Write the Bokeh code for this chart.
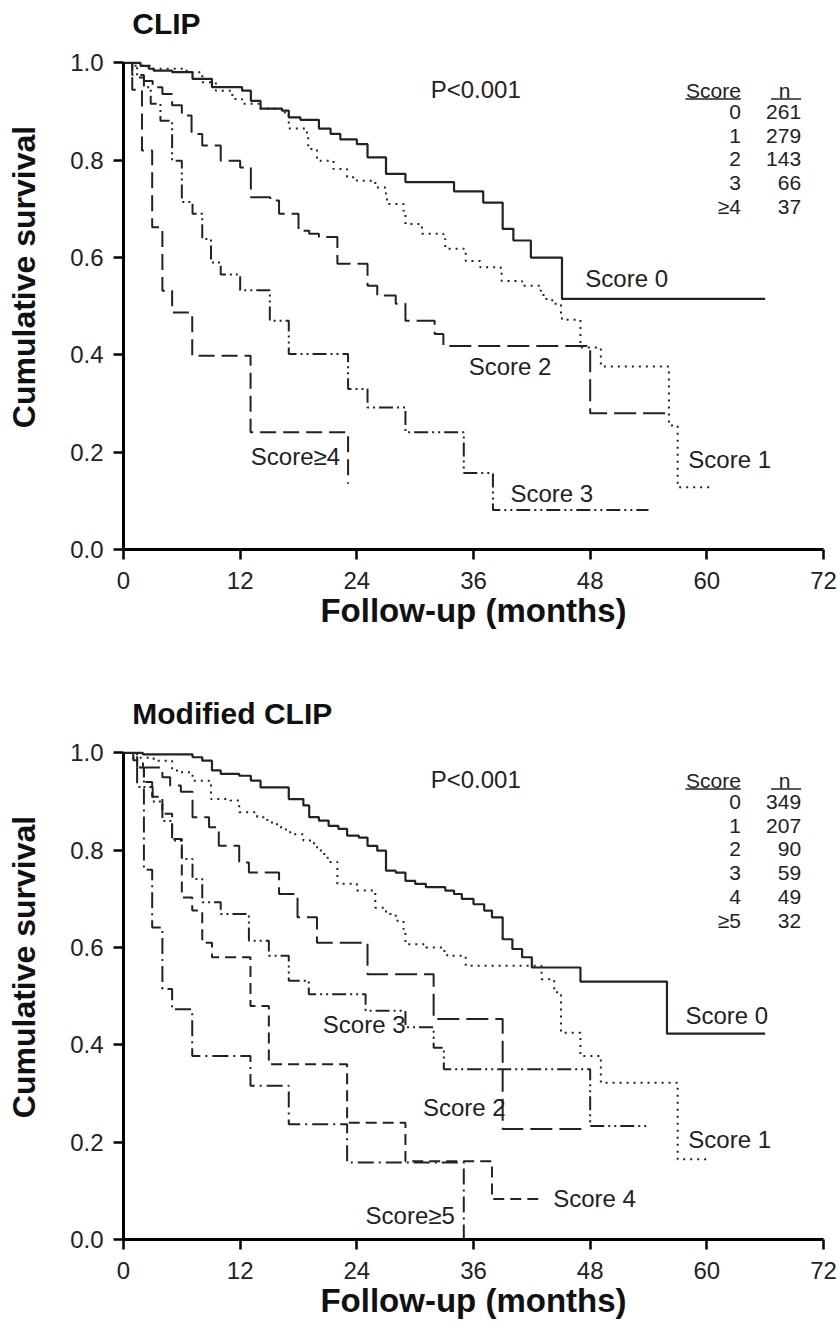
from bokeh.plotting import figure
from bokeh.models import Label, FixedTicker
from bokeh.layouts import column
from bokeh.embed import file_html
from bokeh.resources import INLINE

FONT = "Liberation Sans"
LINE = "#222222"

# ---------------- data ----------------
x_ticks = [0, 12, 24, 36, 48, 60, 72]
y_ticks = [0.0, 0.2, 0.4, 0.6, 0.8, 1.0]
y_tick_labels = ["0.0", "0.2", "0.4", "0.6", "0.8", "1.0"]

# CLIP panel
clip_s0_t = [0, 1.75, 2.6, 3.1, 5.0, 7.1, 9.1, 12.2, 13.1, 14.1, 16.3, 17.0, 18.2, 20.1, 21.3, 22.3, 24.0, 25.1, 27.0, 29.0, 34.0, 37.0, 39.0, 40.1, 41.9, 45.1, 66.0]
clip_s0_s = [1.0, 0.994, 0.988, 0.984, 0.981, 0.967, 0.95, 0.943, 0.922, 0.906, 0.902, 0.888, 0.883, 0.865, 0.854, 0.843, 0.833, 0.806, 0.772, 0.755, 0.736, 0.713, 0.659, 0.635, 0.600, 0.515, 0.515]
clip_s1_t = [0, 1.0, 3.0, 6.5, 8.1, 9.5, 11.2, 12.2, 13.9, 16.3, 17.0, 18.7, 19.0, 19.9, 21.6, 23.0, 24.0, 25.9, 27.0, 27.1, 28.8, 29.0, 30.7, 32.9, 33.1, 35.0, 35.2, 36.7, 38.8, 38.9, 41.0, 42.9, 43.2, 44.1, 45.0, 45.1, 47.0, 49.1, 56.1, 57.0, 60.7]
clip_s1_s = [1.0, 0.994, 0.988, 0.981, 0.96, 0.943, 0.926, 0.916, 0.906, 0.898, 0.865, 0.857, 0.823, 0.799, 0.782, 0.765, 0.758, 0.744, 0.731, 0.71, 0.696, 0.669, 0.649, 0.638, 0.618, 0.61, 0.593, 0.58, 0.567, 0.552, 0.542, 0.532, 0.515, 0.505, 0.484, 0.472, 0.415, 0.376, 0.255, 0.128, 0.128]
clip_s2_t = [0, 0.9, 2.1, 3.0, 4.0, 5.0, 6.0, 7.0, 8.1, 10.0, 12.0, 13.1, 15.1, 16.0, 18.0, 19.1, 20.1, 22.0, 25.1, 26.1, 28.0, 29.0, 32.0, 32.9, 48.0, 56.1]
clip_s2_s = [1.0, 0.975, 0.963, 0.95, 0.936, 0.913, 0.892, 0.854, 0.830, 0.799, 0.785, 0.724, 0.717, 0.690, 0.655, 0.649, 0.642, 0.587, 0.542, 0.522, 0.505, 0.470, 0.443, 0.418, 0.28, 0.28]
clip_s3_t = [0, 1.4, 2.1, 2.8, 3.8, 5.0, 6.0, 7.1, 8.1, 9.0, 10.0, 12.0, 15.05, 17.0, 23.1, 25.1, 29.0, 35.0, 38.0, 54.0]
clip_s3_s = [1.0, 0.97, 0.95, 0.916, 0.881, 0.799, 0.714, 0.69, 0.638, 0.59, 0.565, 0.533, 0.47, 0.402, 0.33, 0.292, 0.241, 0.157, 0.081, 0.081]
clip_s4_t = [0, 0.9, 1.9, 2.95, 4.0, 5.0, 7.07, 13.07, 23.1]
clip_s4_s = [1.0, 0.945, 0.82, 0.662, 0.532, 0.487, 0.398, 0.241, 0.135]
clip_scores = ["0", "1", "2", "3", "≥4"]
clip_n = ["261", "279", "143", "66", "37"]
clip_curve_labels = ["Score 0", "Score 1", "Score 2", "Score 3", "Score≥4"]

# Modified CLIP panel
m_s0_t = [0, 2.0, 7.1, 8.1, 9.1, 10.0, 11.9, 13.1, 14.1, 17.0, 18.5, 19.1, 20.1, 21.1, 22.1, 23.0, 24.2, 25.1, 26.1, 27.0, 28.0, 29.0, 30.0, 31.1, 33.1, 34.0, 34.8, 36.0, 37.1, 37.9, 39.0, 40.0, 41.0, 42.0, 47.0, 55.9, 66.0]
m_s0_s = [1.0, 0.997, 0.991, 0.984, 0.964, 0.957, 0.953, 0.943, 0.929, 0.905, 0.892, 0.868, 0.861, 0.850, 0.844, 0.830, 0.826, 0.809, 0.799, 0.758, 0.754, 0.737, 0.731, 0.724, 0.717, 0.710, 0.700, 0.689, 0.676, 0.662, 0.617, 0.597, 0.580, 0.559, 0.530, 0.423, 0.423]
m_s1_t = [0, 1.0, 3.1, 5.0, 5.9, 7.1, 9.0, 11.0, 11.9, 13.75, 14.8, 15.8, 16.7, 17.5, 18.5, 19.6, 20.3, 21.0, 22.0, 24.0, 25.9, 27.0, 28.0, 28.8, 29.0, 31.1, 32.9, 33.3, 35.2, 43.0, 44.3, 45.0, 47.0, 49.1, 57.0, 60.4]
m_s1_s = [1.0, 0.99, 0.984, 0.964, 0.96, 0.943, 0.905, 0.902, 0.878, 0.868, 0.857, 0.847, 0.837, 0.833, 0.820, 0.806, 0.792, 0.776, 0.731, 0.717, 0.682, 0.669, 0.655, 0.638, 0.607, 0.600, 0.593, 0.583, 0.5625, 0.535, 0.508, 0.425, 0.377, 0.322, 0.165, 0.165]
m_s2_t = [0, 1.0, 2.0, 4.0, 4.8, 5.9, 7.1, 8.8, 9.8, 11.9, 12.9, 16.0, 17.9, 19.9, 25.1, 31.9, 39.0, 47.2]
m_s2_s = [1.0, 0.985, 0.97, 0.95, 0.933, 0.92, 0.868, 0.847, 0.809, 0.775, 0.754, 0.710, 0.662, 0.610, 0.545, 0.453, 0.227, 0.227]
m_s3_t = [0, 1.4, 2.1, 3.0, 4.0, 5.0, 6.0, 7.1, 8.1, 10.0, 12.9, 14.95, 17.0, 19.06, 24.9, 29.0, 31.9, 32.95, 48.0, 54.0]
m_s3_s = [1.0, 0.97, 0.93, 0.90, 0.86, 0.82, 0.782, 0.741, 0.693, 0.669, 0.614, 0.583, 0.532, 0.504, 0.470, 0.436, 0.394, 0.350, 0.233, 0.233]
m_s4_t = [0, 1.4, 2.1, 2.95, 4.0, 5.0, 6.0, 7.07, 8.1, 9.1, 13.06, 14.95, 23.0, 29.0, 37.9, 42.9]
m_s4_s = [1.0, 0.97, 0.94, 0.91, 0.875, 0.823, 0.703, 0.676, 0.610, 0.580, 0.480, 0.360, 0.240, 0.161, 0.083, 0.083]
m_s5_t = [0, 1.4, 2.1, 2.95, 4.0, 5.0, 7.07, 13.06, 17.0, 23.0, 35.0]
m_s5_s = [1.0, 0.93, 0.76, 0.641, 0.515, 0.473, 0.377, 0.316, 0.237, 0.158, 0.0]
m_scores = ["0", "1", "2", "3", "4", "≥5"]
m_n = ["349", "207", "90", "59", "49", "32"]
m_curve_labels = ["Score 0", "Score 1", "Score 2", "Score 3", "Score 4", "Score≥5"]

Y_TOP = 1.12  # head-room above 1.0 for the panel title


def make_panel(title, curves, scores, ns, curve_labels, label_pos, height, top, bottom):
    p = figure(width=840, height=height, x_range=(0, 72), y_range=(0, Y_TOP),
               output_backend="svg", toolbar_location=None,
               min_border_left=123, min_border_right=17,
               min_border_top=top, min_border_bottom=bottom)
    p.outline_line_color = None
    p.xgrid.visible = False
    p.ygrid.visible = False
    p.background_fill_color = "white"
    p.border_fill_color = "white"

    for ax in (p.xaxis, p.yaxis):
        ax.axis_line_width = 3
        ax.axis_line_color = "black"
        ax.major_tick_line_width = 2.5
        ax.major_tick_line_color = "black"
        ax.major_tick_out = 10
        ax.major_tick_in = 0
        ax.minor_tick_line_color = None
        ax.major_label_text_font = FONT
        ax.major_label_text_font_size = "24px"
        ax.major_label_text_color = "#222222"
        ax.axis_label_text_font = FONT
        ax.axis_label_text_font_style = "bold"
        ax.axis_label_text_color = "#111111"
    p.yaxis.bounds = (0, 1.0)
    p.xaxis.axis_label_text_font_size = "33px"
    p.yaxis.axis_label_text_font_size = "32px"
    p.xaxis.ticker = FixedTicker(ticks=x_ticks)
    p.yaxis.ticker = FixedTicker(ticks=y_ticks)
    p.yaxis.major_label_overrides = {t: l for t, l in zip(y_ticks, y_tick_labels)}
    p.xaxis.major_label_standoff = 12
    p.yaxis.major_label_standoff = 10
    p.xaxis.axis_label = "Follow-up (months)"
    p.yaxis.axis_label = "Cumulative survival"
    p.xaxis.axis_label_standoff = 0
    p.yaxis.axis_label_standoff = 25

    for (t, s, dash, w) in curves:
        p.step(t, s, mode="after", line_color=LINE, line_width=w, line_dash=dash)

    # panel title
    p.add_layout(Label(x=0.9, y=1.081, text=title, text_font=FONT, text_font_style="bold",
                       text_font_size="30px", text_baseline="middle", text_color="#111111"))
    # p value
    p.add_layout(Label(x=31.6, y=0.946, text="P<0.001", text_font=FONT,
                       text_font_size="24px", text_baseline="middle", text_color="#222222"))
    # table
    hdr_y = 0.944
    row0 = 0.899
    step = 0.0487
    sc_x = 63.5
    n_x = 69.7
    p.add_layout(Label(x=sc_x, y=hdr_y, text="Score", text_font=FONT, text_font_size="21px",
                       text_baseline="middle", text_align="right", text_color="#222222"))
    p.add_layout(Label(x=n_x - 1.1, y=hdr_y, text="n", text_font=FONT, text_font_size="21px",
                       text_baseline="middle", text_align="right", text_color="#222222"))
    ul_y = hdr_y - 0.018
    p.segment(x0=[sc_x - 5.7, n_x - 3.1], y0=[ul_y, ul_y], x1=[sc_x, n_x], y1=[ul_y, ul_y],
              line_color="#222222", line_width=1.5)
    for i, (sc, nn) in enumerate(zip(scores, ns)):
        yy = row0 - i * step
        p.add_layout(Label(x=sc_x, y=yy, text=sc, text_font=FONT, text_font_size="21px",
                           text_baseline="middle", text_align="right", text_color="#222222"))
        p.add_layout(Label(x=n_x, y=yy, text=nn, text_font=FONT, text_font_size="21px",
                           text_baseline="middle", text_align="right", text_color="#222222"))
    for txt, (lx, ly) in zip(curve_labels, label_pos):
        p.add_layout(Label(x=lx, y=ly, text=txt, text_font=FONT, text_font_size="24px",
                           text_baseline="middle", text_color="#222222"))
    return p


clip_curves = [
    (clip_s0_t, clip_s0_s, "solid", 2.2),
    (clip_s1_t, clip_s1_s, "2 5", 2),
    (clip_s2_t, clip_s2_s, "22 7", 2),
    (clip_s3_t, clip_s3_s, "14 4 2 4 2 4", 2),
    (clip_s4_t, clip_s4_s, "16 7", 2),
]
clip_label_pos = [(47.5, 0.557), (58.1, 0.184), (35.5, 0.377), (39.8, 0.116), (13.1, 0.191)]

m_curves = [
    (m_s0_t, m_s0_s, "solid", 2.2),
    (m_s1_t, m_s1_s, "2 5", 2),
    (m_s2_t, m_s2_s, "22 7", 2),
    (m_s3_t, m_s3_s, "14 4 2 4 2 4", 2),
    (m_s4_t, m_s4_s, "11 6", 2),
    (m_s5_t, m_s5_s, "16 5 2 5", 2),
]
m_label_pos = [(57.8, 0.46), (58.1, 0.205), (30.8, 0.271), (20.5, 0.441), (44.2, 0.084), (24.9, 0.05)]

# frame height = 486.5 px per unit * Y_TOP = 545 px
p1 = make_panel("CLIP", clip_curves, clip_scores, clip_n, clip_curve_labels, clip_label_pos,
                662, 4, 113)
p2 = make_panel("Modified CLIP", m_curves, m_scores, m_n, m_curve_labels, m_label_pos,
                672, 32, 95)

layout = column(p1, p2)
open("out.html", "w").write(file_html(layout, INLINE))
